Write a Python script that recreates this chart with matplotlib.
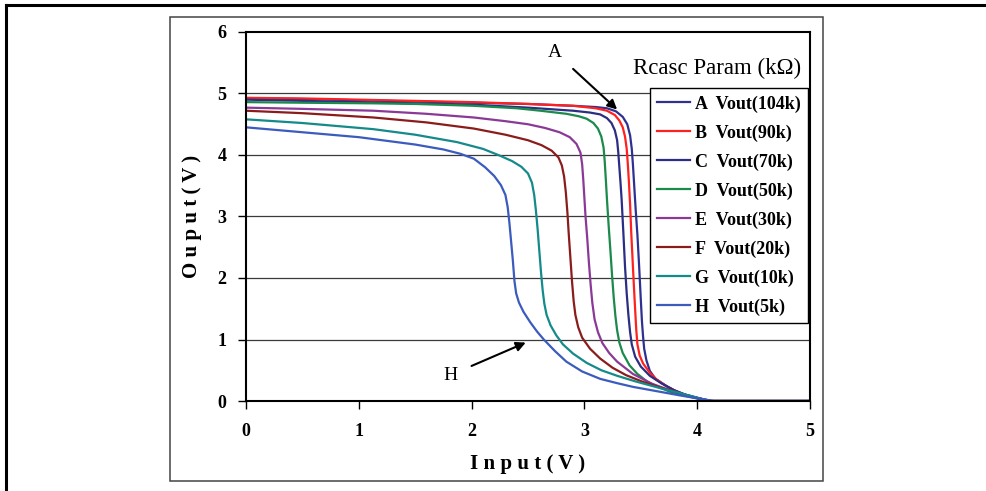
import matplotlib
matplotlib.use("Agg")
import matplotlib.pyplot as plt
from matplotlib.lines import Line2D
from matplotlib.patches import Rectangle

plt.rcParams['font.family'] = ['Liberation Serif', 'DejaVu Serif']

# ---- data ----
labels = ["A  Vout(104k)", "B  Vout(90k)", "C  Vout(70k)", "D  Vout(50k)",
          "E  Vout(30k)", "F  Vout(20k)", "G  Vout(10k)", "H  Vout(5k)"]
colors = ["#2E3192", "#FF2020", "#2B2E83", "#1B8A4C",
          "#8A3A96", "#8B1C1C", "#158A8A", "#3B5BBF"]

a_x = [0, 0.5, 1, 1.5, 2, 2.5, 2.9, 3.1, 3.2, 3.28, 3.34, 3.38, 3.405, 3.42, 3.43, 3.44, 3.455,
       3.47, 3.485, 3.50, 3.51, 3.52, 3.53, 3.55, 3.58, 3.63, 3.73, 3.80, 3.88, 3.97, 4.05, 4.13, 5]
a_y = [4.92, 4.91, 4.89, 4.87, 4.85, 4.83, 4.80, 4.78, 4.76, 4.71, 4.62, 4.50, 4.32, 4.10, 3.85,
       3.55, 3.10, 2.70, 2.20, 1.65, 1.30, 1.05, 0.85, 0.66, 0.49, 0.36, 0.24, 0.17, 0.11, 0.06,
       0.03, 0, 0]

b_x = [0, 0.5, 1, 1.5, 2, 2.5, 2.9, 3.1, 3.2, 3.27, 3.31, 3.34, 3.36, 3.375, 3.385, 3.395, 3.405,
       3.415, 3.43, 3.445, 3.46, 3.47, 3.49, 3.52, 3.58, 3.64, 3.72, 3.82, 3.92, 4.02, 4.10, 5]
b_y = [4.93, 4.92, 4.90, 4.88, 4.86, 4.83, 4.80, 4.76, 4.72, 4.65, 4.56, 4.45, 4.30, 4.10, 3.85,
       3.55, 3.20, 2.75, 2.19, 1.65, 1.15, 0.92, 0.74, 0.61, 0.46, 0.35, 0.25, 0.15, 0.08, 0.04,
       0, 0]

c_x = [0, 0.5, 1, 1.5, 2, 2.5, 2.9, 3.05, 3.14, 3.20, 3.24, 3.27, 3.29, 3.30, 3.31, 3.32, 3.33,
       3.345, 3.36, 3.375, 3.39, 3.405, 3.42, 3.45, 3.50, 3.58, 3.68, 3.79, 3.90, 4.0, 4.08, 5]
c_y = [4.90, 4.88, 4.86, 4.84, 4.82, 4.77, 4.72, 4.69, 4.66, 4.60, 4.52, 4.40, 4.24, 4.05, 3.80,
       3.55, 3.28, 2.75, 2.19, 1.75, 1.40, 1.12, 0.92, 0.72, 0.56, 0.41, 0.29, 0.18, 0.10, 0.05,
       0, 0]

d_x = [0, 0.5, 1.13, 1.5, 2.02, 2.4, 2.61, 2.84, 2.95, 3.02, 3.08, 3.12, 3.15, 3.17, 3.18, 3.19,
       3.20, 3.215, 3.23, 3.245, 3.26, 3.275, 3.29, 3.31, 3.34, 3.40, 3.47, 3.56, 3.64, 3.76, 3.88,
       3.98, 4.08, 5]
d_y = [4.86, 4.85, 4.84, 4.83, 4.80, 4.76, 4.72, 4.67, 4.63, 4.59, 4.52, 4.43, 4.30, 4.12, 3.90,
       3.60, 3.28, 2.85, 2.46, 2.05, 1.68, 1.38, 1.15, 0.95, 0.78, 0.58, 0.44, 0.31, 0.24, 0.15,
       0.09, 0.05, 0, 0]

e_x = [0, 0.5, 1.13, 1.6, 2.02, 2.3, 2.5, 2.65, 2.78, 2.87, 2.93, 2.965, 2.98, 2.99, 3.00, 3.01,
       3.025, 3.04, 3.055, 3.07, 3.09, 3.12, 3.16, 3.22, 3.29, 3.43, 3.6, 3.75, 3.9, 4.0, 4.10, 5]
e_y = [4.77, 4.75, 4.72, 4.67, 4.61, 4.55, 4.50, 4.44, 4.37, 4.29, 4.18, 4.04, 3.85, 3.60, 3.30,
       3.00, 2.65, 2.25, 1.90, 1.60, 1.33, 1.12, 0.94, 0.78, 0.64, 0.44, 0.28, 0.18, 0.10, 0.05,
       0, 0]

f_x = [0, 0.5, 1.13, 1.6, 2.02, 2.3, 2.5, 2.62, 2.71, 2.77, 2.80, 2.82, 2.835, 2.85, 2.86, 2.875,
       2.89, 2.905, 2.92, 2.945, 2.98, 3.05, 3.14, 3.25, 3.37, 3.52, 3.67, 3.82, 3.95, 4.05, 4.12, 5]
f_y = [4.72, 4.68, 4.61, 4.53, 4.43, 4.33, 4.24, 4.16, 4.07, 3.96, 3.83, 3.65, 3.40, 3.05, 2.75,
       2.35, 1.95, 1.62, 1.40, 1.20, 1.03, 0.85, 0.69, 0.54, 0.42, 0.31, 0.22, 0.14, 0.07, 0.03,
       0, 0]

g_x = [0, 0.5, 1.13, 1.5, 1.87, 2.1, 2.25, 2.36, 2.44, 2.50, 2.535, 2.555, 2.57, 2.585, 2.60,
       2.615, 2.63, 2.645, 2.665, 2.70, 2.75, 2.81, 2.90, 3.02, 3.15, 3.29, 3.45, 3.67, 3.82, 3.95,
       4.05, 4.12, 5]
g_y = [4.58, 4.52, 4.42, 4.33, 4.21, 4.10, 3.99, 3.90, 3.81, 3.70, 3.55, 3.35, 3.10, 2.80, 2.45,
       2.10, 1.80, 1.58, 1.40, 1.23, 1.07, 0.92, 0.77, 0.62, 0.50, 0.41, 0.32, 0.21, 0.14, 0.08,
       0.03, 0, 0]

h_x = [0, 0.5, 1.0, 1.5, 1.75, 1.9, 2.02, 2.12, 2.2, 2.26, 2.30, 2.32, 2.335, 2.35, 2.365, 2.38,
       2.395, 2.42, 2.46, 2.52, 2.58, 2.64, 2.74, 2.84, 2.98, 3.14, 3.29, 3.43, 3.67, 3.85, 3.98,
       4.08, 4.15, 5]
h_y = [4.45, 4.37, 4.29, 4.17, 4.09, 4.02, 3.94, 3.80, 3.66, 3.51, 3.35, 3.15, 2.90, 2.60, 2.30,
       1.95, 1.75, 1.60, 1.45, 1.28, 1.13, 1.00, 0.81, 0.64, 0.48, 0.36, 0.29, 0.23, 0.15, 0.09,
       0.05, 0.02, 0, 0]

series_x = [a_x, b_x, c_x, d_x, e_x, f_x, g_x, h_x]
series_y = [a_y, b_y, c_y, d_y, e_y, f_y, g_y, h_y]

x_ticks = [0, 1, 2, 3, 4, 5]
y_ticks = [0, 1, 2, 3, 4, 5, 6]

W, H = 987, 491
fig = plt.figure(figsize=(W / 100, H / 100), dpi=100)
ax = fig.add_axes([246 / W, 1 - 401 / H, (810 - 246) / W, (401 - 32) / H])

# outer frames
fig.add_artist(Line2D([6 / W, 1.0], [1 - 5 / H, 1 - 5 / H], transform=fig.transFigure,
                      color='black', lw=2.2))
fig.add_artist(Line2D([6 / W, 6 / W], [0, 1 - 5 / H], transform=fig.transFigure,
                      color='black', lw=2.2))
fig.add_artist(Rectangle((170 / W, 1 - 481 / H), (823 - 170) / W, (481 - 17) / H,
                         transform=fig.transFigure, fill=False, edgecolor='#444444', lw=1.1))

for xs, ys, col, lab in zip(series_x, series_y, colors, labels):
    ax.plot(xs, ys, color=col, lw=1.6, label=lab, solid_joinstyle='round')

ax.set_xlim(0, 5)
ax.set_ylim(0, 6)
ax.set_xticks(x_ticks)
ax.set_yticks(y_ticks)
for yv in y_ticks[1:-1]:
    ax.axhline(yv, color='#3a3a3a', lw=0.9, zorder=0)

for s in ax.spines.values():
    s.set_linewidth(1.5)
    s.set_color('black')

ax.tick_params(axis='both', direction='out', length=6, width=1, labelsize=13)
ax.tick_params(axis='x', pad=10)
ax.tick_params(axis='y', pad=8)
for t in ax.get_xticklabels() + ax.get_yticklabels():
    t.set_fontweight('bold')

ax.set_xlabel('I n p u t ( V )', fontsize=15, fontweight='bold', labelpad=10)
ax.set_ylabel('O u p u t ( V )', fontsize=15, fontweight='bold', labelpad=11)

leg = ax.legend(loc='upper left', bbox_to_anchor=(650 / W, 1 - 88 / H),
                bbox_transform=fig.transFigure, borderaxespad=0, frameon=True,
                fancybox=False, edgecolor='black', framealpha=1,
                prop={'weight': 'bold', 'size': 13}, handlelength=1.8,
                handletextpad=0.3, labelspacing=0.65, borderpad=0.4)
leg.get_frame().set_linewidth(1.0)

ax.text(4.18, 5.41, 'Rcasc Param (kΩ)', fontsize=16.5, ha='center', va='center')

ax.annotate('A', xy=(3.29, 4.74), xytext=(2.74, 5.67), fontsize=14, ha='center', va='center',
            arrowprops=dict(arrowstyle='-|>', color='black', lw=1.5, shrinkA=8, shrinkB=0,
                            mutation_scale=14))
ax.annotate('H', xy=(2.48, 0.95), xytext=(1.81, 0.42), fontsize=14, ha='center', va='center',
            arrowprops=dict(arrowstyle='-|>', color='black', lw=1.5, shrinkA=9, shrinkB=0,
                            mutation_scale=14))

fig.savefig('out.png', dpi=100)
